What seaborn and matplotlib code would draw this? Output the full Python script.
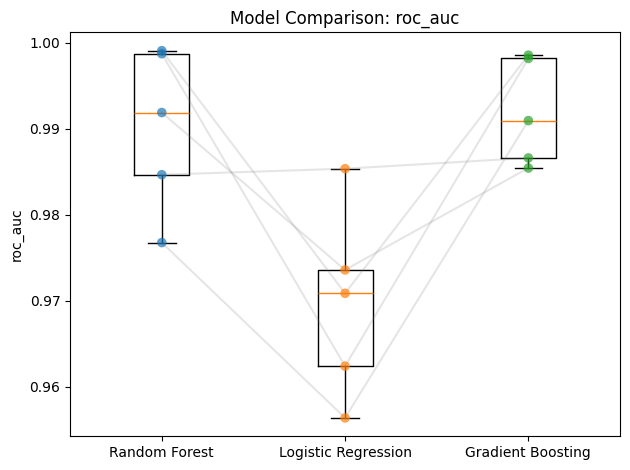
import matplotlib
matplotlib.use("Agg")
import matplotlib.pyplot as plt
import seaborn as sns
import pandas as pd

models = ["Random Forest", "Logistic Regression", "Gradient Boosting"]
rf_scores = [0.99907, 0.99872, 0.99188, 0.98465, 0.97676]
lr_scores = [0.97086, 0.96239, 0.97358, 0.98535, 0.95637]
gb_scores = [0.99855, 0.99817, 0.98543, 0.98660, 0.99094]
metric = "roc_auc"

all_scores = [rf_scores, lr_scores, gb_scores]
rows = []
for mi, (m, sc) in enumerate(zip(models, all_scores)):
    for fold, v in enumerate(sc):
        rows.append({"model": m, "pos": mi + 1, "fold": fold, "score": v})
df = pd.DataFrame(rows)

fig, ax = plt.subplots(figsize=(6.4, 4.8), dpi=100)
ax.boxplot(all_scores, tick_labels=models)

sns.lineplot(data=df, x="pos", y="score", units="fold", estimator=None,
             color="gray", alpha=0.2, linewidth=1.5, ax=ax, legend=False, sort=False)
sns.scatterplot(data=df, x="pos", y="score", hue="model",
                palette=["C0", "C1", "C2"], alpha=0.7, s=48, linewidth=0,
                ax=ax, legend=False, zorder=3)

ax.set_xlim(0.5, 3.5)
ax.set_xticks([1, 2, 3])
ax.set_xticklabels(models)
ax.set_xlabel("")
ax.set_ylabel(metric)
ax.set_title(f"Model Comparison: {metric}")
fig.tight_layout()
fig.savefig("out.png", dpi=100, bbox_inches="tight")
